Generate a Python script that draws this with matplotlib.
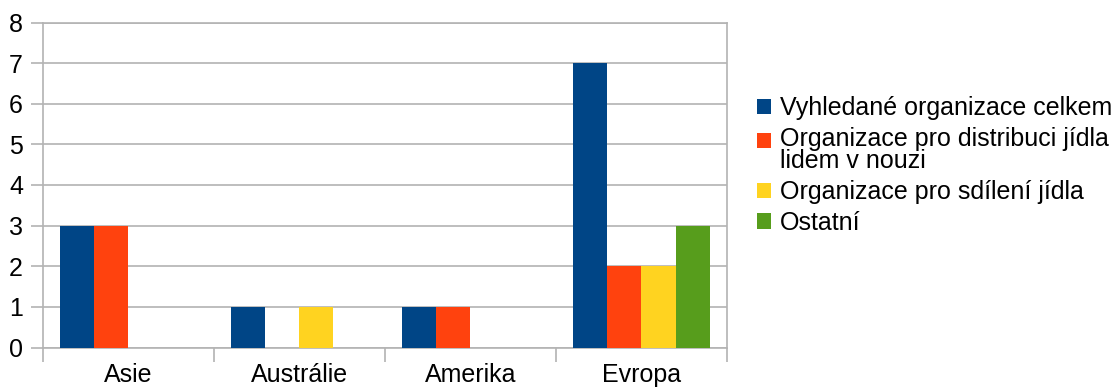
import matplotlib
matplotlib.use("Agg")
import matplotlib.pyplot as plt
import numpy as np

categories = ["Asie", "Austrálie", "Amerika", "Evropa"]
series_names = ["Vyhledané organizace celkem",
                "Organizace pro distribuci jídla\nlidem v nouzi",
                "Organizace pro sdílení jídla",
                "Ostatní"]
vyhledane = [3, 1, 1, 7]
distribuce = [3, 0, 1, 2]
sdileni = [0, 1, 0, 2]
ostatni = [0, 0, 0, 3]
colors = ["#004586", "#ff420e", "#ffd320", "#579d1c"]

plt.rcParams['font.family'] = ['Liberation Sans', 'DejaVu Sans']

fig = plt.figure(figsize=(11.18, 3.88), dpi=100)
ax = fig.add_axes([42.5/1118, 1-347.5/388, (727-42.5)/1118, (347.5-22.5)/388])

x = np.arange(len(categories))
w = 0.2
for i, (vals, name, c) in enumerate(zip([vyhledane, distribuce, sdileni, ostatni], series_names, colors)):
    ax.bar(x + (i - 1.5) * w, vals, width=w, color=c, label=name, zorder=3)

gray = "#b3b3b3"
fs = 18
ax.set_xlim(-0.5, 3.5)
ax.set_ylim(0, 8)
ax.set_yticks(range(0, 9))
ax.yaxis.grid(True, color=gray, linewidth=1.2, zorder=0)
ax.set_xticks(x)
ax.set_xticklabels(categories)
ax.set_xticks(np.arange(-0.5, 4, 1), minor=True)
ax.tick_params(axis='x', which='major', length=0, pad=11, labelsize=fs)
ax.tick_params(axis='x', which='minor', length=10, color=gray, width=1.2)
ax.tick_params(axis='y', length=9, color=gray, width=1.2, labelsize=fs, pad=5)
for s in ax.spines.values():
    s.set_color(gray)
    s.set_linewidth(1.2)

leg = fig.legend(loc='upper left', bbox_to_anchor=(757/1118, 1-96/388), frameon=False,
                 fontsize=fs, handlelength=0.56, handleheight=0.56, handletextpad=0.36,
                 labelspacing=0.27, borderaxespad=0, borderpad=0)
for t in leg.get_texts():
    t.set_linespacing(0.92)
# align the handle of the two-line entry with its first line
h = leg.legend_handles[1]
h.set_y(h.get_y() + 7.5)

fig.savefig("out.png", dpi=100)
